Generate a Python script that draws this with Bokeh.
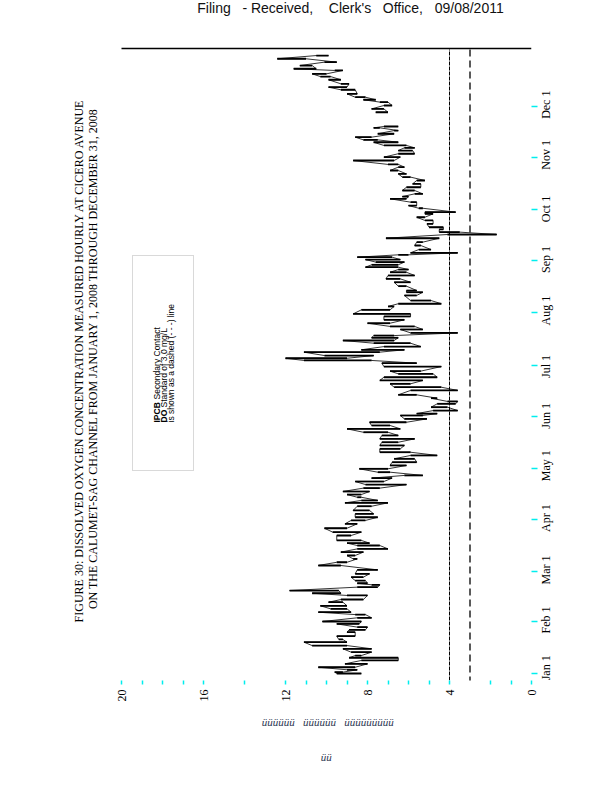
import math
from bokeh.plotting import figure
from bokeh.models import Range1d, LinearAxis, FixedTicker, BoxAnnotation, Label, Title
from bokeh.embed import file_html
from bokeh.resources import INLINE

nan = float("nan")

# ---- data: day of 2008, daily low / high DO (mg/L)
day = [0, 0.8, 2.2, 3.7, 5.7, 7.7, 9.3, 10.6, 12.6, 14.6, 16.5, 18.5, 20.1, 22.1, 24.4, 25.8, 27.4, 29.3,
       30.7, 32.9, 34.8, 36.2, 38.2, 40.0, 42.1, 43.7, 46.1, 47.4, 49.0, 51.0, 52.4, 53.3, 54.9, 56.9, 58.9,
       61.2, 63.8, 65.7, 67.7, 69.7, 71.7, 73.6, 75.6, 77.0, 78.6, 81.5, 83.5, 85.8, 88.4, 90.4, 92.3, 94.3,
       96.3, 98.8, 100.8, 102.2, 104.1, 105.7, 107.5, 109.5, 111.6, 113.4, 115.4, 117.0, 118.9, 120.9, 122.9,
       124.8, 126.8, 128.8, 130.7, 132.7, 134.7, 136.6, 138.6, 140.6, 142.5, 144.5, 146.5, 148.4, 150.4, 152.4,
       153.5, 155.3, 157.3, 159.3, 160.7, 162.6, 164.6, 167.2, 169.1, 171.1, 173.1, 175.0, 177.0, 178.6, 181.3,
       183.3, 184.9, 186.2, 187.8, 189.8, 191.2, 193.1, 195.1, 196.7, 198.3, 199.6, 201.2, 203.2, 205.0, 206.9,
       208.9, 210.9, 212.4, 214.8, 216.8, 218.4, 220.3, 223.3, 225.2, 226.2, 228.8, 231.1, 233.1, 235.1, 237.0,
       238.6, 240.0, 241.4, 243.0, 244.5, 245.9, 247.3, 248.5, 250.4, 252.8, 254.8, 257.1, 259.3, 260.7, 262.3,
       263.6, 265.6, 267.6, 269.5, 271.5, 272.5, 274.8, 276.4, 278.4, 280.4, 281.7, 283.3, 285.3, 287.2, 289.2,
       291.2, 293.2, 295.1, 297.1, 299.1, 300.7, 303.0, 305.0, 307.0, 308.9, 310.5, 311.9, 313.8, 315.2, 316.8,
       318.8, 320.7, 322.3, 323.1, 327.0, 331.5, 333.5, 335.5, 337.5, 338.9, 340.4, 342.4, 344.8, 346.3, 348.3,
       350.7, 352.6, 354.2, 356.2, 357.2, 359.1, 361.1, 363.1, 365.0]
do_low = [8.3, 9.2, 8.5, 8.6, 8.0, 6.5, 6.5, 8.3, 7.8, 7.8, 9.0, 9.0, 9.2, 8.6, 8.6, 8.1, 8.0, 8.4,
          8.3, 7.8, 8.1, 8.8, 9.0, 9.0, 9.2, 8.2, 8.0, 9.3, 9.4, 7.5, 7.4, 8.0, 8.1, 8.2, 7.9,
          7.5, 9.3, 9.0, 8.5, 8.6, 8.2, 7.0, 7.4, 7.9, 8.3, 8.8, 8.3, 9.0, 8.5, 8.1, 7.5, 7.7,
          7.9, 7.8, 7.0, 7.5, 8.3, 8.3, 7.9, 7.4, 6.1, 7.2, 6.8, 5.3, 6.9, 7.0, 6.1,
          5.6, 5.7, 4.6, 5.9, 6.4, 6.2, 6.5, 5.7, 6.5, 7.0, 6.4, 6.9, 6.1, 5.1, 5.3,
          4.6, 3.6, 4.1, 3.7, 3.6, 4.6, 5.6, 3.6, 4.4, 5.9, 5.3, 4.6, 4.8, 5.4, 4.4,
          5.6, 7.8, 9.0, 7.7, 7.4, 6.2, 5.4, 5.9, 6.7, 6.5, 6.7, 3.6, 5.3, 5.7, 6.9,
          6.2, 5.9, 5.9, 6.9, 6.7, 4.4, 4.9, 5.6, 5.3, 5.6, 6.1, 5.9, 6.4, 5.7, 6.1,
          6.0, 6.5, 6.5, 6.2, 6.4, 6.8, 6.0, 3.6, 4.9, 5.4, 5.3, 4.5, 1.7, 3.5, 4.3,
          4.3, 4.8, 4.8, 5.2, 4.8, 3.7, 5.3, 5.6, 5.6, 6.1, 6.0, 5.3, 5.7, 5.4, 5.4,
          5.2, 5.9, 6.1, 6.5, 6.2, 6.5, 6.7, 6.4, 5.7, 5.8, 5.7, 6.1, 6.5, 7.5, 7.8,
          6.7, 6.5, 7.4, 6.5, nan, 7.0, 7.2, 6.8, 7.0, 7.6, 8.1, 8.5, 8.6, 9.0, 8.9,
          9.3, 9.8, 10.0, 9.2, 10.5, 10.7, 9.5, 11.0, 9.9]
do_high = [9.5, 9.6, 9.0, 10.4, 9.1, 8.3, 8.9, 8.6, 8.8, 9.2, 10.7, 11.1, 9.4, 9.5, 9.0, 8.9, 8.5, 9.5,
           10.2, 8.5, 8.6, 10.4, 9.8, 10.3, 9.9, 9.3, 9.0, 10.7, 11.8, 8.5, 7.8, 8.5, 8.6, 8.8, 8.6,
           8.5, 10.4, 9.5, 8.7, 9.0, 9.3, 8.5, 8.5, 9.0, 9.5, 9.5, 9.7, 10.1, 9.1, 8.8, 8.6, 8.6,
           8.7, 8.5, 9.1, 8.3, 8.5, 9.0, 9.2, 8.2, 8.1, 8.6, 7.8, 6.2, 7.5, 8.4, 6.9,
           6.8, 6.7, 5.9, 7.4, 7.4, 7.4, 7.3, 7.4, 7.3, 8.2, 9.0, 7.8, 7.9, 6.2, 6.4,
           5.6, 4.8, 4.9, 4.6, 4.1, 4.9, 6.5, 5.9, 6.7, 6.9, 7.4, 7.2, 6.5, 6.9, 7.2,
           7.3, 11.1, 12.0, 10.1, 11.1, 8.3, 7.2, 7.7, 9.2, 7.8, 7.7, 5.9, 6.4, 6.9, 8.0,
           7.2, 7.2, 8.7, 8.3, 7.0, 6.5, 5.9, 6.2, 6.1, 6.1, 6.5, 6.7, 7.1, 7.0, 6.9,
           6.5, 8.1, 7.8, 7.6, 8.1, 8.5, 6.5, 5.9, 5.5, 5.7, 5.6, 7.1, 4.1, 4.5, 4.5,
           5.0, 5.1, 5.2, 5.6, 5.2, 5.2, 5.5, 6.0, 5.9, 6.9, 6.3, 5.7, 6.3, 6.1, 5.8,
           5.6, 6.3, 6.5, 6.9, 6.5, 7.0, 8.7, 7.2, 6.5, 6.5, 6.2, 7.2, 7.7, 8.2, 8.6,
           7.5, 6.7, 7.7, 7.2, nan, 7.6, 7.8, 7.2, 7.4, 8.2, 8.6, 9.0, 9.3, 9.9, 9.3,
           9.9, 10.3, 10.7, 9.6, 11.6, 11.3, 10.1, 12.4, 10.5]

month_days = [0, 31, 60, 91, 121, 152, 182, 213, 244, 274, 305, 335]
month_labels = ["Jan 1", "Feb 1", "Mar 1", "Apr 1", "May 1", "Jun 1",
                "Jul 1", "Aug 1", "Sep 1", "Oct 1", "Nov 1", "Dec 1"]
do_major_ticks = [0, 4, 8, 12, 16, 20]
do_minor_ticks = [1, 2, 5, 6, 7, 9, 10, 11, 14, 17, 18, 19]
do_axis_max = 20
reference_do = 4.0
standard_do = 3.0

title1 = "FIGURE 30: DISSOLVED OXYGEN CONCENTRATION MEASURED HOURLY AT CICERO AVENUE"
title2 = "ON THE CALUMET-SAG CHANNEL FROM JANUARY 1, 2008 THROUGH DECEMBER 31, 2008"
note1a, note1b = "IPCB", "Secondary Contact"
note2a, note2b = "DO", "Standard of 3.0 mg/L"
note3 = "is shown as a dashed (- - -) line"
header = "Filing\u00a0\u00a0\u00a0-\u00a0Received,\u00a0\u00a0\u00a0\u00a0Clerk's\u00a0\u00a0\u00a0Office,\u00a0\u00a0\u00a009/08/2011"
glyph_row1 = "\u00fc\u00fc\u00fc\u00fc\u00fc\u00fc\u00a0\u00a0\u00a0\u00fc\u00fc\u00fc\u00fc\u00fc\u00fc\u00a0\u00a0\u00a0\u00fc\u00fc\u00fc\u00fc\u00fc\u00fc\u00fc\u00fc\u00fc"
glyph_row2 = "\u00fc\u00fc"

# ---- layout helpers (page pixel -> data coords, for placement only)
X0, XPX = 531.0, 20.5      # page x of DO=0, px per mg/L
Y0, YPX = 673.0, 1.693     # page y of Jan 1, px per day
def vx(px):
    return (X0 - px) / XPX
def dy(py):
    return (Y0 - py) / YPX

W, H = 608, 796
FRAME_L, FRAME_R, FRAME_T, FRAME_B = 60, 531, 0, 680
p = figure(width=W, height=H, output_backend="svg", toolbar_location=None,
           x_range=Range1d(vx(FRAME_L), 0), y_range=Range1d(dy(FRAME_B), dy(FRAME_T)),
           x_axis_location=None, y_axis_location=None,
           min_border_left=FRAME_L, min_border_right=W - FRAME_R,
           min_border_top=FRAME_T, min_border_bottom=H - FRAME_B)
p.outline_line_color = None
p.grid.visible = False
p.background_fill_color = "white"
p.border_fill_color = "white"

SERIF = "Liberation Serif"
CYAN = "#00eeee"

# bottom (DO) axis: labelled major ticks every 4, unlabelled minor ticks
xa = LinearAxis(ticker=FixedTicker(ticks=do_major_ticks, minor_ticks=do_minor_ticks),
                axis_line_color=None,
                major_tick_line_color=CYAN, major_tick_line_width=1.5, major_tick_in=0, major_tick_out=4,
                minor_tick_line_color=CYAN, minor_tick_line_width=1.5, minor_tick_in=0, minor_tick_out=4,
                major_label_orientation=math.pi / 2, major_label_standoff=5,
                major_label_text_font=SERIF, major_label_text_font_size="12px",
                major_label_text_color="black")
p.add_layout(xa, "below")

# right (time) axis: cyan marks at month starts (minor ticks); month names centred
# on them (rotated text is anchored at its start, so the labelled ticks sit half a label lower)
half_label = 7.4                       # half a label's length, in days
lab_pos = [max(d - half_label, dy(FRAME_B) + 0.1) for d in month_days]
ya = LinearAxis(ticker=FixedTicker(ticks=lab_pos, minor_ticks=month_days),
                major_label_overrides={d: l for d, l in zip(lab_pos, month_labels)},
                axis_line_color=None,
                major_tick_line_color=None, major_tick_in=0, major_tick_out=6,
                minor_tick_line_color=CYAN, minor_tick_line_width=1.5, minor_tick_in=0, minor_tick_out=6,
                major_label_orientation=math.pi / 2, major_label_standoff=9,
                major_label_text_font=SERIF, major_label_text_font_size="12px",
                major_label_text_color="black")
p.add_layout(ya, "right")

# garbled glyph rows under the chart
pad1 = "\u00a0" * 23
pad2 = "\u00a0" * 22
p.add_layout(Title(text=pad1 + glyph_row1, align="center", standoff=18,
                   text_font=SERIF, text_font_size="11px", text_font_style="italic",
                   text_color="#2b3550"), "below")
p.add_layout(Title(text=pad2 + glyph_row2, align="center", standoff=24,
                   text_font=SERIF, text_font_size="11px", text_font_style="italic",
                   text_color="#2b3550"), "below")

# top frame line
p.segment(x0=[do_axis_max], x1=[0], y0=[dy(48)], y1=[dy(48)], line_color="black", line_width=1.3)

# reference lines (4.0 and 3.0 mg/L)
p.segment(x0=[reference_do], x1=[reference_do], y0=[dy(680)], y1=[dy(49)],
          line_color="black", line_width=1, line_dash="4 1")
p.segment(x0=[standard_do], x1=[standard_do], y0=[dy(683)], y1=[dy(49)],
          line_color="black", line_width=1.3, line_dash="7 4")

# hourly trace: daily ranges plus a thin zigzag through them
p.segment(x0=do_low, x1=do_high, y0=day, y1=day, line_color="black", line_width=1.8)
xs, ys = [], []
for i, (d, lo, hi) in enumerate(zip(day, do_low, do_high)):
    pair = [lo, hi] if i % 2 == 0 else [hi, lo]
    xs += pair
    ys += [d, d]
p.line(x=xs, y=ys, line_color="black", line_width=0.8)

# note box
p.add_layout(BoxAnnotation(left=vx(132), right=vx(193), bottom=dy(470), top=dy(255),
                           fill_alpha=0, line_color="black", line_width=1, line_dash="1 1"))
ang = math.pi / 2
def lab(x, y, text, size, font=SERIF, style="normal", align="left", color="black"):
    p.add_layout(Label(x=x, y=y, text=text, angle=ang, text_align=align, text_baseline="middle",
                       text_font=font, text_font_size=size, text_font_style=style,
                       text_color=color))

NOTE = "8.5px"
lab(vx(156), dy(422), note1a, NOTE, "Liberation Sans", "bold")
lab(vx(156), dy(399), note1b, NOTE, "Liberation Sans")
lab(vx(163), dy(422), note2a, NOTE, "Liberation Sans", "bold")
lab(vx(163), dy(407), note2b, NOTE, "Liberation Sans")
lab(vx(170), dy(422), note3, NOTE, "Liberation Sans")

# titles
lab(vx(78), dy(360), title1, "12px", align="center")
lab(vx(92), dy(358), title2, "12px", align="center")

# page header at the top edge
p.add_layout(Label(x=vx(350), y=dy(7), text=header, text_align="center",
                   text_baseline="alphabetic", text_font="Liberation Sans",
                   text_font_size="14px", text_color="#111111"))

open("out.html", "w").write(file_html(p, INLINE))
